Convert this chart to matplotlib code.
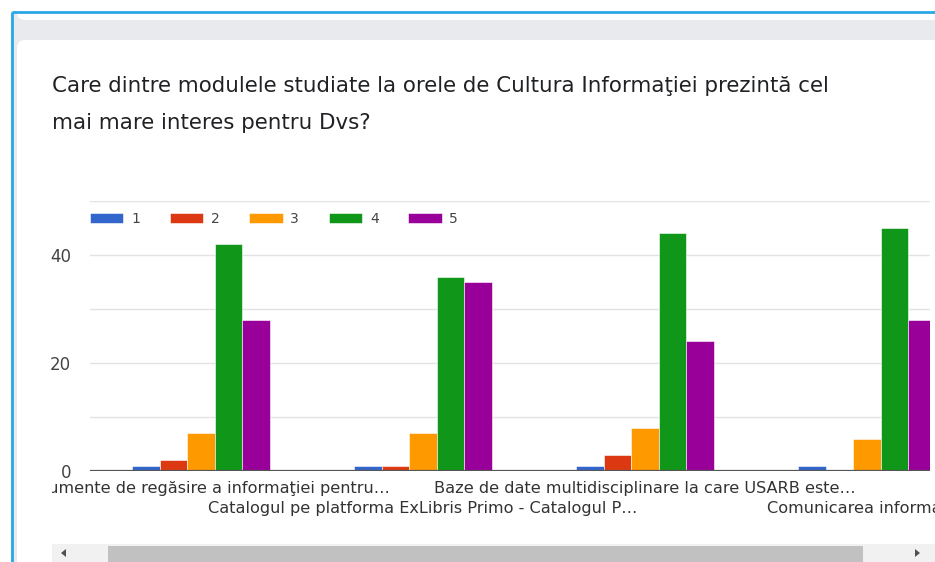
import numpy as np
import matplotlib.pyplot as plt
from matplotlib.patches import Rectangle, FancyBboxPatch, Polygon
from matplotlib.transforms import Bbox, TransformedBbox, blended_transform_factory

# Date
categorii = ["Instrumente de regăsire a informaţiei pentru…",
             "Catalogul pe platforma ExLibris Primo - Catalogul P…",
             "Baze de date multidisciplinare la care USARB este…",
             "Comunicarea informaţiei"]
serii = ["1", "2", "3", "4", "5"]
val_1 = [1, 1, 1, 1]
val_2 = [2, 1, 3, 0]
val_3 = [7, 7, 8, 6]
val_4 = [42, 36, 44, 45]
val_5 = [28, 35, 24, 28]
culori = ['#3366cc', '#dc3912', '#ff9900', '#109618', '#990099']
titlu = ["Care dintre modulele studiate la orele de Cultura Informaţiei prezintă cel",
         "mai mare interes pentru Dvs?"]

W, H = 935, 562
fig = plt.figure(figsize=(W / 100, H / 100), dpi=100)

# fundal (pagina Google Forms) in pixeli
bg = fig.add_axes([0, 0, 1, 1], zorder=0)
bg.set_xlim(0, W)
bg.set_ylim(H, 0)
bg.axis('off')
bg.add_patch(Rectangle((11, 11), W, H, facecolor='#e8eaed', edgecolor='none'))
bg.add_patch(FancyBboxPatch((17, -20), W, 40, boxstyle="round,pad=0,rounding_size=8",
                            facecolor='white', edgecolor='none'))
bg.add_patch(FancyBboxPatch((17, 40), W, H, boxstyle="round,pad=0,rounding_size=8",
                            facecolor='white', edgecolor='none'))
bg.plot([11.5, 11.5], [12, H], color='#2aa7e6', lw=2, solid_capstyle='butt')
bg.plot([12, W], [11.5, 11.5], color='#2aa7e6', lw=2, solid_capstyle='butt')

for i, linie in enumerate(titlu):
    bg.text(52, 86 + i * 37, linie, fontsize=15.4, color='#202124', va='center')

# bara de derulare
bg.add_patch(Rectangle((52, 544), W - 52, 20, facecolor='#f1f1f1', edgecolor='none'))
bg.add_patch(Rectangle((108, 546), 755, 18, facecolor='#c1c1c1', edgecolor='none'))
bg.add_patch(Polygon([[61, 553], [66, 549], [66, 557]], facecolor='#505050', edgecolor='none'))
bg.add_patch(Polygon([[920, 553], [915, 549], [915, 557]], facecolor='#505050', edgecolor='none'))

# graficul
ax = fig.add_axes([90 / W, (H - 471) / H, (930 - 90) / W, (471 - 201) / H], zorder=1)
ax.patch.set_visible(False)
x = np.arange(len(categorii))
w = 0.124
for i, vals in enumerate([val_1, val_2, val_3, val_4, val_5]):
    ax.bar(x + (i - 2) * w, vals, w, color=culori[i], label=serii[i],
           edgecolor='white', linewidth=0.4, zorder=3)

ax.set_xlim(-0.5, 3.284)
ax.set_ylim(0, 50)
ax.set_yticks([0, 10, 20, 30, 40, 50])
ax.set_yticklabels(['0', '', '20', '', '40', ''])
ax.yaxis.grid(True, color='#e3e3e3', lw=1)
ax.set_axisbelow(True)
ax.tick_params(axis='y', length=0, pad=13.7, labelsize=12, labelcolor='#444444')
ax.set_xticks([])
for s in ax.spines.values():
    s.set_visible(False)
ax.axhline(0, color='#555555', lw=1.6, zorder=4)

# etichete pe doua randuri, taiate la marginea containerului
trans = blended_transform_factory(ax.transData, ax.transAxes)
clip = TransformedBbox(Bbox([[52 / W, 0], [1, 1]]), fig.transFigure)
for i, et in enumerate(categorii):
    y = -17 / 270 if i % 2 == 0 else -38 / 270
    t = ax.text(x[i], y, et, transform=trans, ha='center', va='center',
                fontsize=11.6, color='#333333', clip_on=True)
    t.set_clip_box(clip)

ax.legend(ncol=5, loc='center left', bbox_to_anchor=(0, (471 - 219) / 270),
          frameon=False, fontsize=10, handlelength=2.4, handleheight=0.72,
          handletextpad=0.55, columnspacing=2.15, borderpad=0, borderaxespad=0,
          labelcolor='#444444')

fig.savefig('out.png', dpi=100)
